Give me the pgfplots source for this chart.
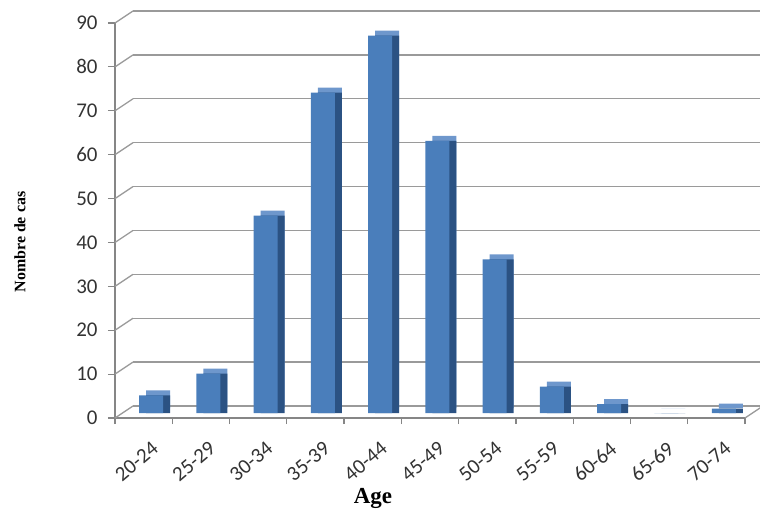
\documentclass[border=0pt]{standalone}
\usepackage{pgfplots}
\pgfplotsset{compat=1.18}
\usepackage{fontspec}
\setmainfont{Liberation Serif}
\newfontfamily\carlito{Carlito}
\usetikzlibrary{calc}
\definecolor{frontc}{HTML}{4A7EBB}
\definecolor{sidec}{HTML}{2B5283}
\definecolor{topc}{HTML}{6E97CC}
\definecolor{gridc}{HTML}{9A9A9A}
\definecolor{axc}{HTML}{868686}
\pgfplotstableread{
x y
0 4
1 9
2 45
3 73
4 86
5 62
6 35
7 6
8 2
9 0
10 1
}\agedata
\begin{document}
\begin{tikzpicture}
\begin{axis}[
  name=ax,
  scale only axis,
  width=630bp, height=395bp,
  xmin=-0.5, xmax=10.5, ymin=0, ymax=90,
  clip=false,
  axis x line*=bottom, axis y line*=left,
  axis line style={draw=axc, line width=1.2bp},
  xtick={0,...,10},
  xticklabels={20-24,25-29,30-34,35-39,40-44,45-49,50-54,55-59,60-64,65-69,70-74},
  major x tick style={draw=none},
  minor xtick={-0.5,0.5,...,10.5},
  minor x tick style={draw=axc, line width=1.2bp},
  tick align=outside,
  minor tick length=6bp,
  major tick length=7bp,
  ytick={0,10,...,90},
  y tick style={draw=axc, line width=1.2bp},
  ymajorgrids,
  major grid style={draw=gridc, line width=1.3bp, xshift=18bp, yshift=12bp},
  /pgf/number format/assume math mode=true,
  yticklabel style={font=\carlito\fontsize{21}{23}\selectfont, text=black!80, xshift=-7bp},
  xticklabel style={font=\carlito\fontsize{21}{23}\selectfont, text=black!80, rotate=40, anchor=north east, xshift=-1bp, yshift=-13bp},
]
\pgfplotsinvokeforeach{0,10,...,90}{
  \draw[gridc, line width=1.3bp] (axis cs:-0.5,#1) -- ++(18bp,12bp);
}
\draw[gridc, line width=1.3bp] (axis cs:10.5,0) -- ++(18bp,12bp);
\addplot[ybar, bar width=24bp, bar shift=0pt, fill=topc, draw=none, xshift=14.4bp, yshift=10bp] table[x=x,y=y] {\agedata};
\addplot[ybar, bar width=24bp, bar shift=0pt, fill=sidec, draw=none, xshift=14.4bp, yshift=5bp] table[x=x,y=y] {\agedata};
\addplot[ybar, bar width=24bp, bar shift=0pt, fill=frontc, draw=none, xshift=7.4bp, yshift=5bp] table[x=x,y=y] {\agedata};
\end{axis}
\node[rotate=90, font=\bfseries\fontsize{16}{18}\selectfont] at ($(ax.south west)+(-95bp,176bp)$) {Nombre de cas};
\node[font=\bfseries\fontsize{23}{25}\selectfont] at ($(ax.south west)+(258bp,-80bp)$) {Age};
\pgfresetboundingbox
\path ($(ax.south west)+(-115bp,-101bp)$) rectangle ($(ax.south west)+(645bp,418bp)$);
\end{tikzpicture}
\end{document}
